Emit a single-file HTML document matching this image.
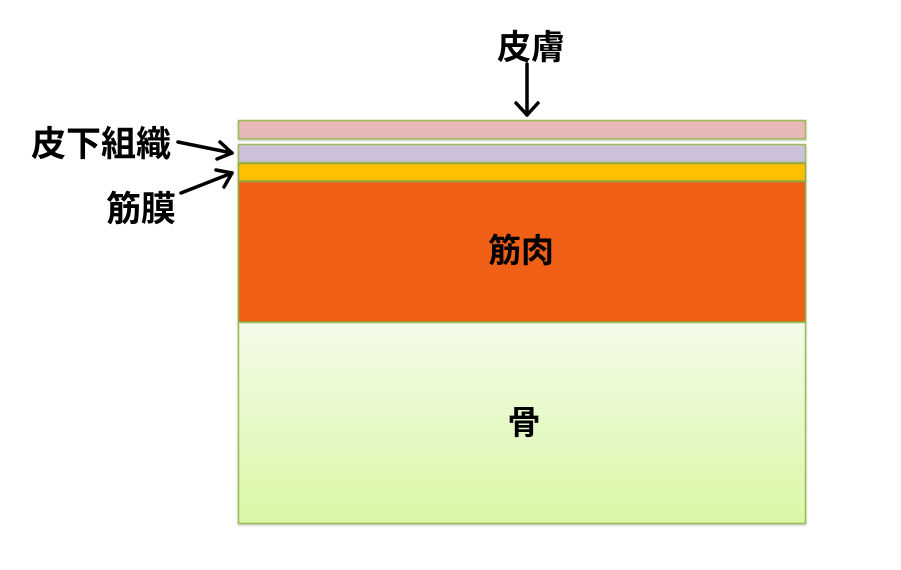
<!DOCTYPE html>
<html>
<head>
<meta charset="utf-8">
<style>
html,body{margin:0;padding:0;background:#fff;}
body{width:901px;height:570px;overflow:hidden;}
svg{display:block;}
text{font-family:"Liberation Sans","Noto Sans CJK JP",sans-serif;fill:#000;font-weight:bold;}
</style>
</head>
<body>
<svg width="901" height="570" viewBox="0 0 901 570" xmlns="http://www.w3.org/2000/svg">
  <defs>
    <linearGradient id="bone" x1="0" y1="0" x2="0" y2="1">
      <stop offset="0" stop-color="#f3fbe9"/>
      <stop offset="1" stop-color="#d9f8a6"/>
    </linearGradient>
    <filter id="sh" x="-5%" y="-5%" width="110%" height="120%">
      <feDropShadow dx="0" dy="1" stdDeviation="1" flood-color="#000" flood-opacity="0.25"/>
    </filter>
  </defs>

  <!-- layers -->
  <rect x="238.5" y="120.5" width="567" height="18.5" fill="#e6b8b7" stroke="#9bbb59" stroke-width="1.5" filter="url(#sh)"/>
  <rect x="238.5" y="144.5" width="567" height="18" fill="#ccc0da" stroke="#9bbb59" stroke-width="1.5" filter="url(#sh)"/>
  <rect x="238.5" y="163.5" width="567" height="17.5" fill="#ffc000" stroke="#8faa40" stroke-width="1.5" filter="url(#sh)"/>
  <rect x="238.5" y="181.5" width="567" height="140.5" fill="#ef5e17" stroke="#8faa40" stroke-width="1.5" filter="url(#sh)"/>
  <rect x="238.5" y="322.5" width="567" height="201" fill="url(#bone)" stroke="#9bbb59" stroke-width="1.5" filter="url(#sh)"/>

  <!-- labels -->
  <text x="531" y="59" font-size="34" text-anchor="middle">皮膚</text>
  <text x="31" y="156" font-size="35">皮下組織</text>
  <text x="106" y="221" font-size="35">筋膜</text>
  <text x="521" y="262" font-size="33" text-anchor="middle">筋肉</text>
  <text x="524" y="434" font-size="33" text-anchor="middle">骨</text>

  <!-- arrows -->
  <g stroke="#000" stroke-width="3.5" fill="none" stroke-linecap="round" stroke-linejoin="round">
    <line x1="527" y1="64" x2="527" y2="115"/>
    <polyline points="516,103 527,115 538,103"/>

    <line x1="178" y1="142" x2="232" y2="153"/>
    <polyline points="220,142 232,153 217,159"/>

    <line x1="181" y1="193" x2="232" y2="173"/>
    <polyline points="216,170 232,173 224,187"/>
  </g>
</svg>
</body>
</html>
